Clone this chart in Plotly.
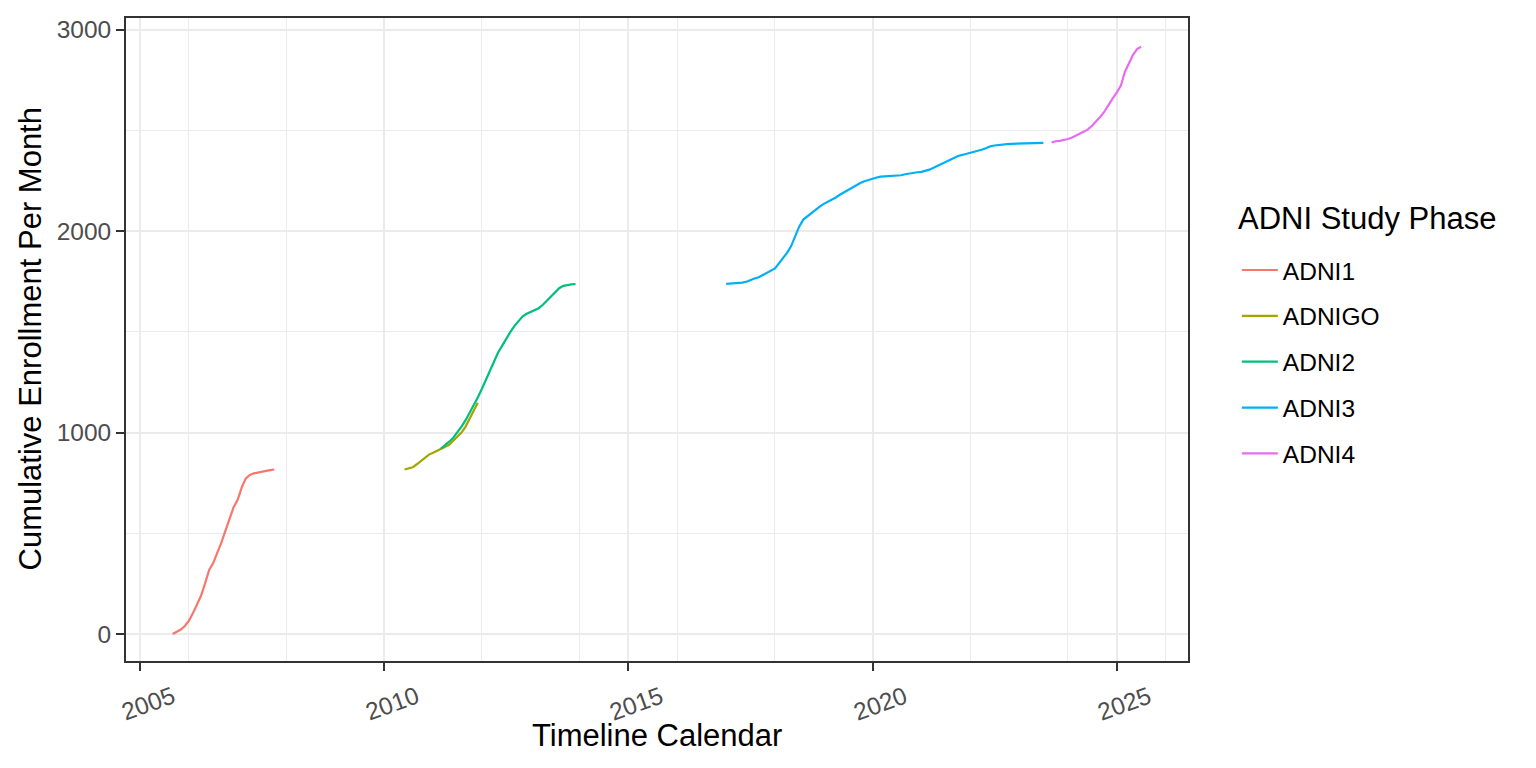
import plotly.graph_objects as go

# ---------------- data ----------------
adni1_months = ["2005-09", "2005-10", "2005-11", "2005-12",
                "2006-01", "2006-02", "2006-03", "2006-04", "2006-05", "2006-06",
                "2006-07", "2006-08", "2006-09", "2006-10", "2006-11", "2006-12",
                "2007-01", "2007-02", "2007-03", "2007-04", "2007-05", "2007-06",
                "2007-07", "2007-08", "2007-09", "2007-10"]
adni1_values = [0, 10, 22, 40,
                66, 105, 143, 190, 250, 318, 352, 400, 455, 513, 570, 630,
                668, 730, 772, 790, 798, 801, 805, 810, 814, 817]

adnigo_months = ["2010-06", "2010-07", "2010-08", "2010-09", "2010-10", "2010-11", "2010-12",
                 "2011-01", "2011-02", "2011-03", "2011-04", "2011-05", "2011-06",
                 "2011-07", "2011-08", "2011-09", "2011-10", "2011-11", "2011-12"]
adnigo_values = [817, 822, 828, 843, 858, 875, 891,
                 900, 910, 919, 930, 940, 960, 982, 1000, 1030, 1070, 1105, 1148]

adni2_months = ["2011-03", "2011-04", "2011-05", "2011-06", "2011-07", "2011-08",
                "2011-09", "2011-10", "2011-11", "2011-12",
                "2012-01", "2012-02", "2012-03", "2012-04", "2012-05", "2012-06",
                "2012-07", "2012-08", "2012-09", "2012-10", "2012-11", "2012-12",
                "2013-01", "2013-02", "2013-03", "2013-04", "2013-05", "2013-06",
                "2013-07", "2013-08", "2013-09", "2013-10", "2013-11", "2013-12"]
adni2_values = [921, 937, 955, 975, 1000, 1030, 1062, 1098, 1135, 1175,
                1218, 1262, 1305, 1350, 1398, 1432, 1468, 1500, 1530, 1556, 1578, 1590,
                1600, 1608, 1618, 1635, 1655, 1677, 1698, 1717, 1729, 1734, 1736, 1738]

adni3_months = ["2017-01", "2017-02", "2017-03", "2017-04", "2017-05", "2017-06",
                "2017-07", "2017-08", "2017-09", "2017-10", "2017-11", "2017-12",
                "2018-01", "2018-02", "2018-03", "2018-04", "2018-05", "2018-06",
                "2018-07", "2018-08", "2018-09", "2018-10", "2018-11", "2018-12",
                "2019-01", "2019-02", "2019-03", "2019-04", "2019-05", "2019-06",
                "2019-07", "2019-08", "2019-09", "2019-10", "2019-11", "2019-12",
                "2020-01", "2020-02", "2020-03", "2020-04", "2020-05", "2020-06",
                "2020-07", "2020-08", "2020-09", "2020-10", "2020-11", "2020-12",
                "2021-01", "2021-02", "2021-03", "2021-04", "2021-05", "2021-06",
                "2021-07", "2021-08", "2021-09", "2021-10", "2021-11", "2021-12",
                "2022-01", "2022-02", "2022-03", "2022-04", "2022-05", "2022-06",
                "2022-07", "2022-08", "2022-09", "2022-10", "2022-11", "2022-12",
                "2023-01", "2023-02", "2023-03", "2023-04", "2023-05", "2023-06",
                "2023-07"]
adni3_values = [1739, 1740, 1740, 1742, 1745, 1749, 1755, 1765, 1772, 1783, 1795, 1805,
                1815, 1842, 1865, 1893, 1925, 1975, 2023, 2058, 2075, 2092, 2108, 2122,
                2136, 2146, 2157, 2168, 2181, 2193, 2206, 2219, 2230, 2240, 2248, 2255,
                2261, 2267, 2271, 2272, 2273, 2274, 2275, 2278, 2283, 2287, 2290, 2293,
                2295, 2300, 2306, 2315, 2325, 2337, 2345, 2355, 2365, 2374, 2379, 2384,
                2388, 2394, 2400, 2406, 2413, 2422, 2426, 2429, 2431, 2433, 2434, 2435,
                2436, 2436, 2437, 2437, 2438, 2439, 2439]

adni4_months = ["2023-09", "2023-10", "2023-11", "2023-12",
                "2024-01", "2024-02", "2024-03", "2024-04", "2024-05", "2024-06",
                "2024-07", "2024-08", "2024-09", "2024-10", "2024-11", "2024-12",
                "2025-01", "2025-02", "2025-03", "2025-04", "2025-05", "2025-06",
                "2025-07"]
adni4_values = [2441, 2447, 2449, 2452,
                2458, 2466, 2474, 2485, 2495, 2507, 2525, 2545, 2570, 2595, 2630, 2660,
                2690, 2725, 2790, 2835, 2875, 2905, 2916]

phase_names = ["ADNI1", "ADNIGO", "ADNI2", "ADNI3", "ADNI4"]
phase_colors = ["#F8766D", "#A3A500", "#00BF7D", "#00B0F6", "#E76BF3"]

x_major_ticks = ["2005-01-01", "2010-01-01", "2015-01-01", "2020-01-01", "2025-01-01"]
x_major_labels = ["2005", "2010", "2015", "2020", "2025"]
x_minor_ticks = ["2006-01-01", "2008-01-01", "2012-01-01", "2014-01-01", "2016-01-01",
                 "2018-01-01", "2022-01-01", "2024-01-01", "2026-01-01"]
y_major_ticks = [0, 1000, 2000, 3000]
y_minor_ticks = [500, 1500, 2500]

# ---------------- figure ----------------
FONT = "Liberation Sans, Arial, Helvetica, sans-serif"
series = [(adni1_months, adni1_values), (adnigo_months, adnigo_values),
          (adni2_months, adni2_values), (adni3_months, adni3_values),
          (adni4_months, adni4_values)]

fig = go.Figure()
for name, color, (months, vals) in zip(phase_names, phase_colors, series):
    fig.add_trace(go.Scatter(
        x=[m + "-01" for m in months], y=vals, mode="lines", name=name,
        legendgroup=name,
        line=dict(color=color, width=2.2),
    ))

axis_common = dict(
    showline=True, mirror=True, linecolor="#333333", linewidth=1.8,
    ticks="outside", ticklen=8, tickwidth=2, tickcolor="#333333",
    showgrid=True, gridcolor="#EBEBEB", gridwidth=2, zeroline=False,
)

fig.update_xaxes(
    type="date", range=["2004-09-17", "2026-06-17"],
    tickmode="array", tickvals=x_major_ticks, showticklabels=False,
    minor=dict(tickvals=x_minor_ticks, showgrid=True, gridcolor="#EBEBEB",
               gridwidth=1, ticklen=0),
    **axis_common,
)
fig.update_yaxes(
    range=[-134, 3059], tickmode="array", tickvals=y_major_ticks,
    ticktext=[str(v) for v in y_major_ticks],
    tickfont=dict(family=FONT, size=24.5, color="#4D4D4D"),
    minor=dict(tickvals=y_minor_ticks, showgrid=True, gridcolor="#EBEBEB",
               gridwidth=1, ticklen=0),
    **axis_common,
)

annotations = []
for tv, tl in zip(x_major_ticks, x_major_labels):
    annotations.append(dict(
        x=tv, xref="x", y=0, yref="paper", text=tl, showarrow=False,
        textangle=-20, xanchor="center", yanchor="middle",
        xshift=8, yshift=-42.5,
        font=dict(family=FONT, size=24.5, color="#4D4D4D"),
    ))
annotations.append(dict(
    x=0.5, xref="paper", y=0, yref="paper", text="Timeline Calendar",
    showarrow=False, xanchor="center", yanchor="middle", yshift=-74,
    font=dict(family=FONT, size=31, color="#000000"),
))
annotations.append(dict(
    x=0, xref="paper", y=0.5, yref="paper", text="Cumulative Enrollment Per Month",
    showarrow=False, textangle=-90, xanchor="center", yanchor="middle", xshift=-96,
    font=dict(family=FONT, size=31, color="#000000"),
))
# legend title
annotations.append(dict(
    x=1.045, xref="paper", y=0.688, yref="paper", text="ADNI Study Phase",
    showarrow=False, xanchor="left", yanchor="middle",
    font=dict(family=FONT, size=31, color="#000000"),
))

fig.update_layout(
    width=1528, height=760,
    margin=dict(l=118, r=348, t=8, b=107, pad=0),
    paper_bgcolor="white", plot_bgcolor="white",
    font=dict(family=FONT, color="#000000"),
    showlegend=True,
    legend=dict(
        font=dict(family=FONT, size=24.5, color="#000000"),
        x=1.046, xanchor="left", y=0.643, yanchor="top",
        bgcolor="rgba(0,0,0,0)", borderwidth=0,
        tracegroupgap=11, itemwidth=36,
    ),
    annotations=annotations,
)

fig.write_html("out.html")
